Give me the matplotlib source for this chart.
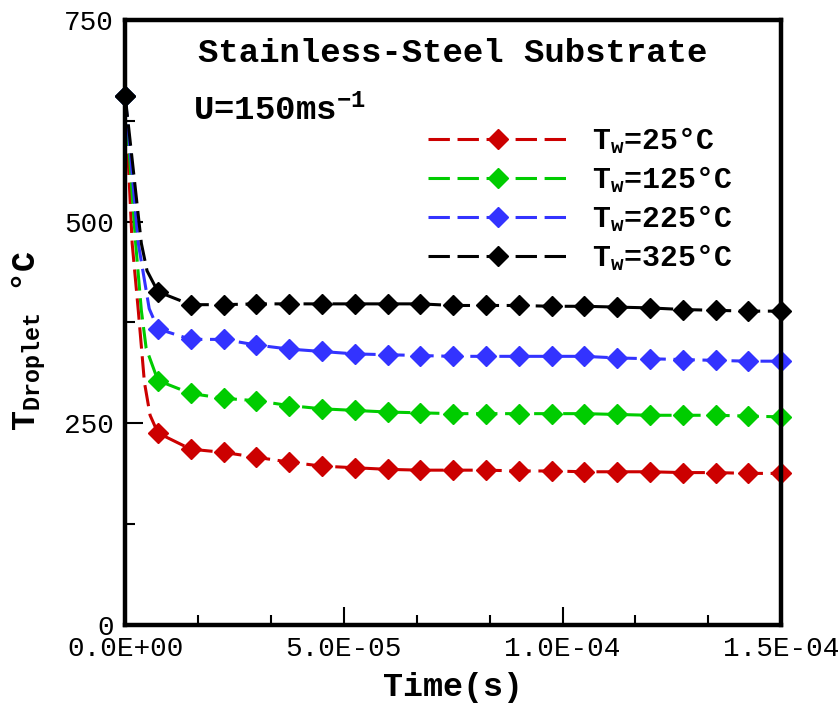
import matplotlib
matplotlib.use('Agg')
import matplotlib.pyplot as plt
from matplotlib.ticker import MultipleLocator, FormatStrFormatter

plt.rcParams['font.family'] = 'Liberation Mono'
plt.rcParams['mathtext.default'] = 'regular'

# time of the marked points, in microseconds
time_us = [0, 7.5, 15, 22.5, 30, 37.5, 45, 52.5, 60, 67.5, 75,
           82.5, 90, 97.5, 105, 112.5, 120, 127.5, 135, 142.5, 150]

t_start = 656

# droplet temperature (C) at the marked points, after t=0
temp_25 = [238, 218, 214, 208, 202, 197, 195, 193, 192, 192,
           192, 191, 191, 190, 190, 190, 189, 189, 188, 188]
temp_125 = [303, 287, 281, 278, 272, 268, 266, 264, 263, 262,
            262, 262, 262, 262, 261, 260, 260, 260, 259, 258]
temp_225 = [367, 354, 354, 347, 342, 339, 336, 335, 334, 333,
            333, 333, 333, 333, 331, 330, 329, 328, 327, 327]
temp_325 = [413, 397, 397, 398, 398, 398, 398, 398, 398, 396,
            396, 396, 395, 395, 394, 393, 391, 390, 389, 389]

# unmarked points of the fast initial drop (time in us, temperature)
early_t_25 = [1.6, 3.0, 4.4, 5.7]
early_v_25 = [473, 390, 301, 260]
early_t_125 = [2.4, 3.7, 4.8]
early_v_125 = [473, 390, 343]
early_t_225 = [3.0, 5.5]
early_v_225 = [473, 392]
early_t_325 = [3.7, 5.0]
early_v_325 = [473, 439]

labels = ['$T_w$=25°C', '$T_w$=125°C', '$T_w$=225°C', '$T_w$=325°C']
colors = ['#cc0000', '#00cc00', '#3333ff', 'black']

series = [(early_t_25, early_v_25, temp_25),
          (early_t_125, early_v_125, temp_125),
          (early_t_225, early_v_225, temp_225),
          (early_t_325, early_v_325, temp_325)]

fig = plt.figure(figsize=(8.4, 7.04), dpi=100)
ax = fig.add_axes([0.149, 0.112, 0.781, 0.860])

for (et, ev, vals), lab, col in zip(series, labels, colors):
    t = [0] + et + time_us[1:]
    v = [t_start] + ev + vals
    t = [x * 1e-6 for x in t]
    marks = [0] + list(range(len(et) + 1, len(t)))
    ax.plot(t, v, color=col, lw=2.2, dashes=(7, 2.5), marker='D', ms=10,
            markevery=marks, label=lab, clip_on=False, zorder=2)

ax.set_xlim(0, 1.5e-4)
ax.set_ylim(0, 750)
ax.xaxis.set_major_locator(MultipleLocator(5e-5))
ax.xaxis.set_minor_locator(MultipleLocator(5e-5 / 3))
ax.xaxis.set_major_formatter(FormatStrFormatter('%.1E'))
ax.yaxis.set_major_locator(MultipleLocator(250))
ax.yaxis.set_minor_locator(MultipleLocator(125))

for s in ax.spines.values():
    s.set_linewidth(3.2)
ax.tick_params(which='both', direction='in', top=False, right=False,
               labelsize=20, width=1.5)
ax.tick_params(which='major', length=13, pad=8)
ax.tick_params(which='minor', length=7)

ax.set_xlabel('Time(s)', fontsize=24, fontweight='bold')
ax.xaxis.set_label_coords(0.5, -0.078)
ax.set_ylabel('$T_{Droplet}$ °C', fontsize=24, fontweight='bold')
ax.yaxis.set_label_coords(-0.118, 0.47)

ax.text(0.5, 0.945, 'Stainless-Steel Substrate', transform=ax.transAxes,
        ha='center', va='center', fontsize=24.5, fontweight='bold')
ax.text(0.104, 0.85, 'U=150ms$^{-1}$', transform=ax.transAxes,
        ha='left', va='center', fontsize=24.5, fontweight='bold')

ax.legend(loc='upper left', bbox_to_anchor=(0.462, 0.826), frameon=False,
          borderpad=0, borderaxespad=0, handlelength=4.7, handletextpad=0.8,
          labelspacing=0.28, numpoints=1,
          prop={'family': 'Liberation Mono', 'size': 21.5, 'weight': 'bold'})

fig.savefig('out.png', dpi=100)
